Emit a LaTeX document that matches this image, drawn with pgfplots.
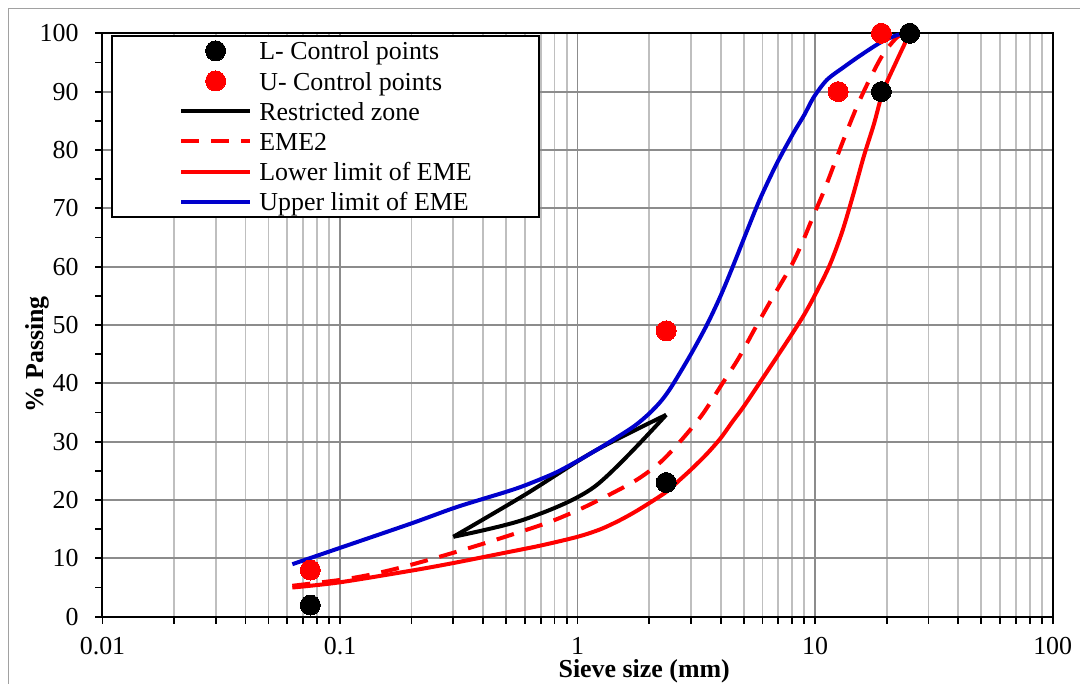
\documentclass[border=0pt]{standalone}
\usepackage{fontspec}
\setmainfont{Liberation Serif}
\usepackage{pgfplots}
\pgfplotsset{compat=1.18}
\definecolor{eblue}{RGB}{0,0,204}
\definecolor{ered}{RGB}{255,0,0}
\pgfplotsset{
  Lmark/.style={only marks, mark=*, mark size=5bp, mark options={solid, fill=black, draw=black, line width=0pt},
    legend image code/.code={\path (0bp,4.6bp) (34.7bp,4.6bp); \draw[##1] plot coordinates {(17.3bp,4.6bp)};}},
  Umark/.style={only marks, mark=*, mark size=5bp, mark options={solid, fill=ered, draw=ered, line width=0pt},
    legend image code/.code={\path (0bp,4.6bp) (34.7bp,4.6bp); \draw[##1] plot coordinates {(17.3bp,4.6bp)};}},
  curve/.style={line width=2bp, smooth, tension=0.5, mark=none, line join=round,
    legend image code/.code={\draw[##1] (0bp,4.6bp) -- (34.7bp,4.6bp);}},
}
\begin{document}
\begin{tikzpicture}
\begin{axis}[
  at={(0,0)}, anchor=south west,
  scale only axis, width=475.1bp, height=291.7bp,
  xmode=log, xmin=0.01, xmax=100, ymin=0, ymax=100,
  xtick={0.01,0.1,1,10,100}, xticklabels={0.01,0.1,1,10,100},
  ytick={0,10,...,100}, minor y tick num=1,
  clip=false,
  tick pos=left,
  axis line style={line width=1bp, black},
  tick align=outside,
  major tick length=3.5bp, minor tick length=3.5bp,
  tick style={black, line width=0.9bp},
  xmajorgrids, xminorgrids, ymajorgrids,
  major grid style={draw=black!45, line width=0.9bp},
  minor grid style={draw=black!25, line width=0.9bp},
  tick label style={font=\fontsize{13}{15}\selectfont},
  /pgf/number format/assume math mode=true,
  xticklabel style={anchor=base, yshift=-15.15bp},
  yticklabel style={anchor=east, inner xsep=0pt, xshift=-8.25bp},
  xlabel={\textbf{Sieve size (mm)}},
  ylabel={\textbf{\% Passing}},
  label style={font=\fontsize{13}{15}\selectfont},
  xlabel style={at={(axis description cs:0.5701,-0.1045)}, anchor=base},
  ylabel style={at={(axis description cs:-0.0626,0.45)}, anchor=base},
  legend cell align=left,
  legend style={at={(axis description cs:0.00895,0.99709)}, anchor=north west,
    draw=black, line width=1bp, inner xsep=33.5bp, inner ysep=1.5bp,
    row sep=3.1bp, column sep=3.5bp, font=\fontsize{13}{15}\selectfont,
    nodes={inner sep=0pt, text height=10.5bp, text depth=1.5bp, anchor=base west}},
]
\addlegendimage{Lmark}\addlegendentry{L- Control points}
\addlegendimage{Umark}\addlegendentry{U- Control points}

% Restricted zone (upper edge)
\addplot[curve, black] table {
x y
0.3 13.7
0.6 20.9
1.18 28.4
2.36 34.6
};
\addlegendentry{Restricted zone}
% Restricted zone (lower edge)
\addplot[curve, black, forget plot] table {
x y
2.36 34.6
1.18 22.3
0.6 16.7
0.3 13.7
};

% EME2
\addplot[curve, ered, dash pattern=on 9bp off 6bp] table {
x y
0.063 5.3
0.1 6.3
0.134 7.2
0.179 8.4
0.239 9.8
0.32 11.3
0.43 12.9
0.57 14.5
0.77 16.3
1.02 18.4
1.33 20.7
1.78 23.5
2.25 26.6
2.78 30.6
3.37 34.8
4.0 39.5
4.76 44.3
5.6 49.5
6.6 54.6
7.9 60.0
8.8 64.0
9.85 68.8
10.9 73.0
12.3 78.6
13.6 83.2
15.2 88.0
17.2 92.6
19.4 96.5
22.1 99.3
24.0 100
};
\addlegendentry{EME2}

% Lower limit
\addplot[curve, ered] table {
x y
0.063 5.0
0.1 5.9
0.2 7.9
0.3 9.2
0.5 11.0
0.7 12.2
1.0 13.7
1.25 15.0
1.5 16.5
1.75 18.0
2.1 20.0
2.4 21.6
2.7 23.5
3.0 25.2
3.5 27.9
4.0 30.6
4.5 33.5
5.0 36.0
6.0 40.8
7.0 44.9
8.0 48.5
9.0 51.8
10.0 55.2
11.5 60.2
13.0 66.0
14.5 72.5
16.0 78.8
17.7 84.5
19.3 90.0
22.0 95.2
25.0 100
};
\addlegendentry{Lower limit of EME}

% Upper limit
\addplot[curve, eblue] table {
x y
0.063 9.0
0.1 11.8
0.2 16.0
0.3 18.6
0.4 20.2
0.5 21.4
0.6 22.5
0.8 24.6
1.0 26.7
1.25 29.0
1.5 31.0
1.75 32.8
2.0 34.8
2.25 37.0
2.5 39.6
3.0 45.0
3.5 50.0
4.0 55.0
4.5 60.0
5.15 66.0
5.86 71.6
6.9 77.7
8.1 82.9
9.0 86.0
9.85 89.0
11.2 92.0
13.2 94.2
15.5 96.2
18.8 98.4
22.1 99.7
24.3 100
};
\addlegendentry{Upper limit of EME}

\addplot[Lmark, forget plot] table {
x y
0.075 2
2.36 23
19 90
25 100
};
\addplot[Umark, forget plot] table {
x y
0.075 8
2.36 49
12.5 90
19 100
};
\end{axis}
\draw[black!37, line width=0.7bp] (-46.9bp,-60bp) rectangle (500bp,304bp);
\pgfresetboundingbox
\useasboundingbox (-51.25bp,-33.65bp) rectangle (488.75bp,308.35bp);
\end{tikzpicture}
\end{document}
